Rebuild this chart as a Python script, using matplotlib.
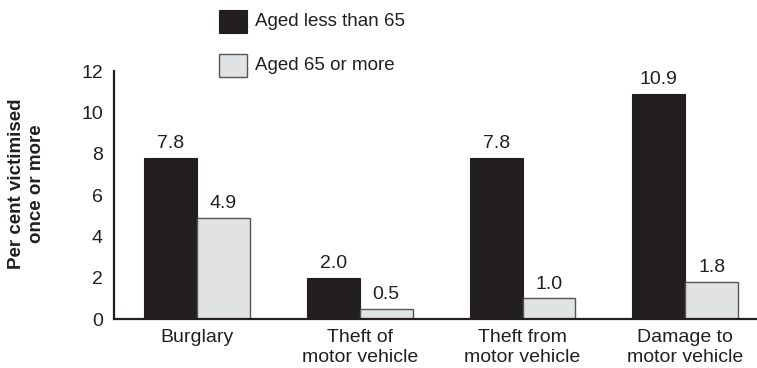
import matplotlib
matplotlib.use("Agg")
import matplotlib.pyplot as plt
import numpy as np

plt.rcParams['font.family'] = ['Liberation Sans', 'DejaVu Sans']

# Data
categories = ['Burglary', 'Theft of\nmotor vehicle', 'Theft from\nmotor vehicle', 'Damage to\nmotor vehicle']
under_65 = [7.8, 2.0, 7.8, 10.9]
over_65 = [4.9, 0.5, 1.0, 1.8]
series_names = ['Aged less than 65', 'Aged 65 or more']
y_ticks = [0, 2, 4, 6, 8, 10, 12]

DARK = '#231f20'
LIGHT = '#e1e2e4'
FS = 14

fig = plt.figure(figsize=(7.57, 3.68), dpi=100)
ax = fig.add_axes([0.1506, 0.133, 0.8494, 0.674])

x = np.arange(len(categories))
w = 0.325
b1 = ax.bar(x - w / 2, under_65, w, color=DARK, edgecolor=DARK, linewidth=0.8)
b2 = ax.bar(x + w / 2, over_65, w, color=LIGHT, edgecolor='#555555', linewidth=1.0)

for bars, vals in ((b1, under_65), (b2, over_65)):
    for r, v in zip(bars, vals):
        ax.annotate(f'{v:.1f}', (r.get_x() + r.get_width() / 2, v),
                    xytext=(0, 4), textcoords='offset points',
                    ha='center', va='bottom', fontsize=FS, color='#231f20')

ax.set_xlim(-0.51, 3.44)
ax.set_ylim(0, 12)
ax.set_yticks(y_ticks)
ax.set_xticks(x)
ax.set_xticklabels(categories, fontsize=FS, color='#231f20', linespacing=1.28)
ax.tick_params(axis='y', labelsize=FS, length=0, pad=8, labelcolor='#231f20')
ax.tick_params(axis='x', length=0, pad=7)

for s in ('top', 'right'):
    ax.spines[s].set_visible(False)
for s in ('left', 'bottom'):
    ax.spines[s].set_linewidth(1.6)
    ax.spines[s].set_color('#231f20')

fig.text(0.035, 0.5, 'Per cent victimised\nonce or more', rotation=90,
         ha='center', va='center', fontsize=13.5, fontweight='bold',
         color='#231f20', linespacing=1.25)

# legend drawn by hand at the top
lw, lh = 28 / 757, 23 / 368
fig.patches.append(plt.Rectangle((219 / 757, 1 - 33 / 368), lw, lh, transform=fig.transFigure,
                                 facecolor=DARK, edgecolor=DARK, linewidth=0.8))
fig.patches.append(plt.Rectangle((219 / 757, 1 - 77 / 368), lw, lh, transform=fig.transFigure,
                                 facecolor=LIGHT, edgecolor='#555555', linewidth=1.0))
fig.text(255 / 757, 1 - 21 / 368, series_names[0], fontsize=13.5, va='center', color='#231f20')
fig.text(255 / 757, 1 - 66 / 368, series_names[1], fontsize=13.5, va='center', color='#231f20')

fig.savefig('out.png', dpi=100)
